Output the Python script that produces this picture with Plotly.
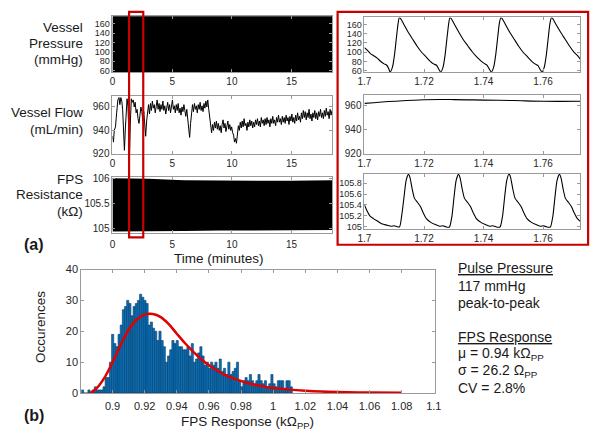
import plotly.graph_objects as go
import numpy as np

W, H = 600, 435

# ---------------- data ----------------
# left overview panels: dense waveforms drawn as min/max envelopes
press_env_time = [0, 5, 10, 15, 18.4]
press_env_upper = [176, 176, 176, 176, 176]
press_env_lower = [57.5, 57.5, 57.5, 57.5, 57.5]

fps_env_time = [0, 3, 6, 9, 12, 15, 18.4]
fps_env_upper = [106.0, 105.99, 105.96, 105.95, 105.95, 105.95, 105.96]
fps_env_lower = [104.94, 104.94, 104.95, 104.96, 104.97, 104.97, 104.97]

flow_time = [0.00, 0.08, 0.15, 0.25, 0.35, 0.45, 0.55, 0.62, 0.70, 0.78, 0.85, 0.92, 1.00, 1.08, 1.15,
             1.22, 1.30, 1.36, 1.43, 1.50, 1.58, 1.66, 1.74, 1.82, 1.90, 1.98, 2.06, 2.14, 2.22, 2.30,
             2.38, 2.46, 2.54, 2.62, 2.70, 2.78, 2.86, 2.94, 3.02, 3.10, 3.18, 3.26, 3.34, 3.42, 3.50,
             3.58, 3.66, 3.74, 3.82, 3.90, 3.98, 4.06, 4.14, 4.22, 4.30, 4.38, 4.46, 4.54, 4.62, 4.70,
             4.78, 4.86, 4.94, 5.02, 5.10, 5.18, 5.26, 5.34, 5.42, 5.50, 5.58, 5.66, 5.74, 5.82, 5.90,
             5.98, 6.06, 6.14, 6.22, 6.30, 6.38, 6.46, 6.54, 6.62, 6.70, 6.78, 6.86, 6.94, 7.02, 7.10,
             7.18, 7.26, 7.34, 7.42, 7.50, 7.58, 7.66, 7.74, 7.82, 7.90, 7.98, 8.06, 8.14, 8.22, 8.30,
             8.38, 8.46, 8.54, 8.62, 8.70, 8.78, 8.86, 8.94, 9.02, 9.10, 9.18, 9.26, 9.34, 9.42, 9.50,
             9.58, 9.66, 9.74, 9.82, 9.90, 9.98, 10.06, 10.14, 10.22, 10.30, 10.38, 10.46, 10.54, 10.62,
             10.70, 10.78, 10.86, 10.94, 11.02, 11.10, 11.18, 11.26, 11.34, 11.42, 11.50, 11.58, 11.66,
             11.74, 11.82, 11.90, 11.98, 12.06, 12.14, 12.22, 12.30, 12.38, 12.46, 12.54, 12.62, 12.70,
             12.78, 12.86, 12.94, 13.02, 13.10, 13.18, 13.26, 13.34, 13.42, 13.50, 13.58, 13.66, 13.74,
             13.82, 13.90, 13.98, 14.06, 14.14, 14.22, 14.30, 14.38, 14.46, 14.54, 14.62, 14.70, 14.78,
             14.86, 14.94, 15.02, 15.10, 15.18, 15.26, 15.34, 15.42, 15.50, 15.58, 15.66, 15.74, 15.82,
             15.90, 15.98, 16.06, 16.14, 16.22, 16.30, 16.38, 16.46, 16.54, 16.62, 16.70, 16.78, 16.86,
             16.94, 17.02, 17.10, 17.18, 17.26, 17.34, 17.42, 17.50, 17.58, 17.66, 17.74, 17.82, 17.90,
             17.98, 18.06, 18.14, 18.22, 18.30, 18.38]
flow_value = [935, 930, 940, 943, 955, 966, 968, 962, 968, 965, 958, 940, 923, 942, 964,
              967, 960, 940, 920, 948, 967, 964, 966, 960, 964, 955, 958, 950, 946, 953,
              960, 956, 948, 956, 944, 935, 948, 958, 962, 954, 963, 957, 965, 959, 962,
              955, 961, 966, 958, 963, 956, 962, 958, 965, 957, 961, 954, 960, 964, 957,
              962, 955, 960, 966, 958, 961, 955, 962, 957, 963, 955, 959, 953, 960, 956,
              962, 957, 952, 958, 950, 944, 934, 946, 958, 962, 956, 963, 958, 961, 955,
              962, 958, 964, 957, 961, 956, 963, 959, 965, 960, 966, 958, 950, 942, 938,
              945, 940, 947, 942, 948, 941, 946, 940, 944, 938, 945, 949, 942, 946, 939,
              944, 948, 941, 945, 940, 943, 938, 936, 930, 933, 929, 936, 944, 940,
              947, 942, 948, 943, 950, 944, 946, 940, 947, 943, 949, 944, 948,
              942, 947, 943, 949, 945, 950, 944, 948, 943, 951, 946, 949, 944,
              950, 945, 951, 946, 949, 943, 950, 946, 952, 946, 949, 944, 951,
              947, 953, 947, 950, 945, 952, 947, 951, 946, 953, 948, 951, 945,
              952, 948, 954, 947, 951, 946, 953, 948, 955, 949, 952, 947, 955,
              950, 957, 951, 956, 949, 955, 951, 958, 950, 954, 948, 955, 951,
              957, 950, 955, 949, 956, 952, 958, 951, 955, 950, 957, 952, 959,
              953, 956, 950, 958, 953, 957]

# right zoomed panels
zoom_p_time = [1.7000, 1.7010, 1.7020, 1.7030, 1.7042, 1.7055, 1.7066, 1.7075, 1.7082, 1.7086,
               1.7094, 1.7101, 1.7108, 1.7113, 1.7117, 1.7122, 1.7132, 1.7147, 1.7162, 1.7177,
               1.7192, 1.7207, 1.7222, 1.7232, 1.7242, 1.7250, 1.7256, 1.7264, 1.7271, 1.7278,
               1.7283, 1.7287, 1.7292, 1.7302, 1.7317, 1.7332, 1.7347, 1.7362, 1.7377, 1.7392,
               1.7402, 1.7412, 1.7420, 1.7426, 1.7434, 1.7441, 1.7448, 1.7453, 1.7458, 1.7463,
               1.7473, 1.7488, 1.7503, 1.7518, 1.7533, 1.7548, 1.7563, 1.7573, 1.7583, 1.7590,
               1.7596, 1.7604, 1.7611, 1.7618, 1.7623, 1.7628, 1.7633, 1.7643, 1.7658, 1.7673,
               1.7688, 1.7703, 1.7718, 1.7725]
zoom_p_value = [110, 104, 97, 93, 88, 80, 75, 72, 64, 57,
                68, 95, 135, 162, 174, 172, 160, 143, 128, 113,
                100, 90, 80, 75, 72, 63, 57, 68, 95, 135,
                162, 174, 172, 160, 143, 127, 114, 101, 90, 81,
                76, 72, 63, 57, 68, 95, 135, 162, 174, 172,
                160, 143, 128, 113, 100, 90, 80, 75, 71, 63,
                57, 68, 95, 135, 162, 174, 172, 160, 144, 129,
                114, 101, 91, 85]

zoom_f_time = [1.700, 1.710, 1.720, 1.730, 1.740, 1.750, 1.760, 1.7725]
zoom_f_value = [961.5, 963.2, 964.5, 964.6, 964.2, 963.8, 963.2, 963.2]

zoom_r_time = [1.7000, 1.7008, 1.7018, 1.7030, 1.7045, 1.7060, 1.7075, 1.7090, 1.7100, 1.7110,
               1.7118, 1.7125, 1.7133, 1.7140, 1.7148, 1.7153, 1.7160, 1.7168, 1.7178, 1.7188,
               1.7198, 1.7208, 1.7223, 1.7238, 1.7253, 1.7263, 1.7273, 1.7281, 1.7286, 1.7294,
               1.7301, 1.7308, 1.7316, 1.7321, 1.7328, 1.7336, 1.7346, 1.7356, 1.7366, 1.7376,
               1.7391, 1.7406, 1.7421, 1.7431, 1.7441, 1.7451, 1.7456, 1.7464, 1.7471, 1.7478,
               1.7486, 1.7491, 1.7498, 1.7506, 1.7516, 1.7526, 1.7536, 1.7546, 1.7561, 1.7576,
               1.7591, 1.7601, 1.7611, 1.7619, 1.7625, 1.7633, 1.7640, 1.7647, 1.7655, 1.7660,
               1.7667, 1.7675, 1.7685, 1.7695, 1.7705, 1.7715, 1.7725]
zoom_r_value = [105.40, 105.30, 105.20, 105.15, 105.10, 105.05, 105.03, 105.01, 105.02, 105.00,
                105.00, 105.20, 105.55, 105.85, 105.96, 105.90, 105.70, 105.52, 105.45, 105.37,
                105.25, 105.15, 105.08, 105.04, 105.01, 105.02, 105.00, 104.99, 105.00, 105.20,
                105.55, 105.85, 105.96, 105.90, 105.70, 105.52, 105.45, 105.37, 105.25, 105.15,
                105.08, 105.04, 105.01, 105.02, 105.00, 104.99, 105.00, 105.20, 105.55, 105.85,
                105.97, 105.90, 105.70, 105.52, 105.45, 105.37, 105.25, 105.15, 105.08, 105.04,
                105.01, 105.02, 105.00, 104.99, 105.00, 105.20, 105.55, 105.85, 105.96, 105.90,
                105.70, 105.52, 105.45, 105.37, 105.25, 105.15, 105.10]

# histogram
hist_first_center = 0.8813
hist_bin_width = 0.00134
hist_counts = [1, 0, 0, 1, 0, 1, 2, 1, 1, 1, 2,
               5, 5, 10, 19, 16, 15, 19, 22, 27, 28,
               30, 29, 25, 28, 29, 30, 32, 31, 30, 29,
               22, 23, 21, 20, 17, 20, 17, 15, 10, 12,
               14, 17, 16, 17, 15, 15, 14, 14, 15, 12,
               16, 10, 11, 13, 15, 12, 9, 10, 8, 10,
               9, 10, 8, 11, 7, 8, 6, 10, 6, 7,
               8, 10, 4, 2, 4, 5, 4, 6, 4, 3,
               4, 6, 4, 3, 4, 2, 3, 6, 3, 2,
               4, 4, 4, 1, 4, 4, 2]
fit_x = [0.886, 0.89, 0.895, 0.90, 0.905, 0.91, 0.915, 0.92, 0.925, 0.93, 0.935, 0.94, 0.945,
         0.95, 0.955, 0.96, 0.965, 0.97, 0.975, 0.98, 0.985, 0.99, 0.995, 1.00, 1.01, 1.02,
         1.03, 1.04, 1.06, 1.08]
fit_y = [0, 1.5, 5, 10, 15.5, 20.5, 23.8, 25.4, 25.6, 24.6, 22.3, 19.2, 16.2,
         13.5, 11.0, 9.0, 7.3, 5.9, 4.8, 3.9, 3.1, 2.5, 2.0, 1.6, 1.1, 0.75,
         0.5, 0.35, 0.15, 0.05]

time_ticks = [0, 5, 10, 15]
zoom_ticks = [1.7, 1.72, 1.74, 1.76]
zoom_tick_text = ["1.7", "1.72", "1.74", "1.76"]
press_ticks = [60, 80, 100, 120, 140, 160]
flow_ticks = [920, 940, 960]
fps_left_ticks = [105, 105.5, 106]
fps_left_text = ["105", "105.5", "106"]
fps_right_ticks = [105, 105.2, 105.4, 105.6, 105.8]
fps_right_text = ["105", "105.2", "105.4", "105.6", "105.8"]
hist_xticks = [0.9, 0.92, 0.94, 0.96, 0.98, 1.0, 1.02, 1.04, 1.06, 1.08, 1.1]
hist_xtext = ["0.9", "0.92", "0.94", "0.96", "0.98", "1", "1.02", "1.04", "1.06", "1.08", "1.1"]
hist_yticks = [0, 10, 20, 30, 40]

# ---------------- helpers ----------------
def dx(a, b):
    return [a / W, b / W]

def dy(top, bottom):
    return [1 - bottom / H, 1 - top / H]

def px(x):
    return x / W

def py(y):
    return 1 - y / H

FONT = "Liberation Sans, Arial, sans-serif"
AX = "#9a9a9a"
TXT = "#262626"

def axis(domain, rng, tickvals, ticktext=None, size=10, anchor=None, standoff=None):
    d = dict(domain=domain, range=rng, tickvals=tickvals, showline=True, linecolor=AX,
             linewidth=1, mirror="ticks", ticks="inside", ticklen=3, tickcolor=AX,
             showgrid=False, zeroline=False, tickfont=dict(family=FONT, size=size, color=TXT),
             fixedrange=True)
    if ticktext is not None:
        d["ticktext"] = ticktext
    if anchor:
        d["anchor"] = anchor
    if standoff is not None:
        d["ticklabelstandoff"] = standoff
    return d

fig = go.Figure()

def env_poly(t, up, lo):
    return list(t) + list(t[::-1]), list(up) + list(lo[::-1])

# left pressure
xs, ys = env_poly(press_env_time, press_env_upper, press_env_lower)
fig.add_trace(go.Scatter(x=xs, y=ys, fill="toself", fillcolor="black", mode="lines",
                         line=dict(width=0, color="black"), xaxis="x", yaxis="y", hoverinfo="skip"))
# left flow
fig.add_trace(go.Scatter(x=flow_time, y=flow_value, mode="lines", line=dict(color="black", width=1),
                         xaxis="x2", yaxis="y2"))
# left fps
xs, ys = env_poly(fps_env_time, fps_env_upper, fps_env_lower)
fig.add_trace(go.Scatter(x=xs, y=ys, fill="toself", fillcolor="black", mode="lines",
                         line=dict(width=0, color="black"), xaxis="x3", yaxis="y3", hoverinfo="skip"))
# right panels
fig.add_trace(go.Scatter(x=zoom_p_time, y=zoom_p_value, mode="lines",
                         line=dict(color="black", width=1.1, shape="spline", smoothing=0.6),
                         xaxis="x4", yaxis="y4"))
fig.add_trace(go.Scatter(x=zoom_f_time, y=zoom_f_value, mode="lines",
                         line=dict(color="black", width=1.1, shape="spline"),
                         xaxis="x5", yaxis="y5"))
fig.add_trace(go.Scatter(x=zoom_r_time, y=zoom_r_value, mode="lines",
                         line=dict(color="black", width=1.1, shape="spline", smoothing=0.6),
                         xaxis="x6", yaxis="y6"))
# histogram
centers = hist_first_center + hist_bin_width * np.arange(len(hist_counts))
fig.add_trace(go.Bar(x=centers, y=hist_counts, width=hist_bin_width,
                     marker=dict(color="#0072BD", line=dict(color="#14385c", width=0.6)),
                     xaxis="x7", yaxis="y7"))
fig.add_trace(go.Scatter(x=fit_x, y=fit_y, mode="lines",
                         line=dict(color="#e00000", width=2.5, shape="spline"),
                         xaxis="x7", yaxis="y7"))

LX = dx(108, 333)
RX = dx(366, 587)
layout = dict(
    width=W, height=H, margin=dict(l=0, r=0, t=0, b=0), autosize=False,
    paper_bgcolor="white", plot_bgcolor="white", showlegend=False,
    xaxis=axis(LX, [0, 18.4], time_ticks, anchor="y"),
    yaxis=axis(dy(10, 68), [57, 177], press_ticks, size=9, anchor="x"),
    xaxis2=axis(LX, [0, 18.4], time_ticks, anchor="y2"),
    yaxis2=axis(dy(93, 152), [920, 969], flow_ticks, anchor="x2"),
    xaxis3=axis(LX, [0, 18.4], time_ticks, anchor="y3", standoff=2),
    yaxis3=axis(dy(176, 233), [104.92, 106.02], fps_left_ticks, fps_left_text, anchor="x3"),
    xaxis4=axis(RX, [1.7, 1.7725], zoom_ticks, zoom_tick_text, anchor="y4"),
    yaxis4=axis(dy(11.7, 68.3), [56.6, 175], press_ticks, size=9, anchor="x4"),
    xaxis5=axis(RX, [1.7, 1.7725], zoom_ticks, zoom_tick_text, anchor="y5"),
    yaxis5=axis(dy(92, 152), [920, 968], flow_ticks, anchor="x5"),
    xaxis6=axis(RX, [1.7, 1.7725], zoom_ticks, zoom_tick_text, anchor="y6"),
    yaxis6=axis(dy(172.3, 229), [104.965, 105.975], fps_right_ticks, fps_right_text, size=9, anchor="x6"),
    xaxis7=axis(dx(76, 438), [0.8805, 1.1006], hist_xticks, hist_xtext, size=11, anchor="y7", standoff=3),
    yaxis7=axis(dy(271, 398), [0, 40], hist_yticks, size=11, anchor="x7"),
)
fig.update_layout(**layout)

annots = []
def txt(x, y, s, size=13.5, xanchor="right", bold=False, angle=0):
    annots.append(dict(x=px(x), y=py(y), xref="paper", yref="paper",
                       text=("<b>%s</b>" % s) if bold else s,
                       showarrow=False, xanchor=xanchor, yanchor="middle", textangle=angle,
                       borderpad=0, font=dict(family=FONT, size=size, color="#1a1a1a")))

# left labels
txt(79, 22, "Vessel")
txt(79, 38.5, "Pressure")
txt(79, 55, "(mmHg)")
txt(79, 110, "Vessel Flow")
txt(79, 127.5, "(mL/min)")
txt(79, 178, "FPS")
txt(79, 194, "Resistance")
txt(79, 211, "(kΩ)")
txt(217, 259.5, "Time (minutes)", xanchor="center")
txt(16, 245, "(a)", size=16, xanchor="left", bold=True)
txt(16, 421, "(b)", size=16, xanchor="left", bold=True)
txt(35, 330, "Occurences", angle=-90, xanchor="center")
txt(246, 428, "FPS Response (kΩ<sub>PP</sub>)", xanchor="center")

# right stats
txt(461, 269, "<u>Pulse Pressure</u>", size=14, xanchor="left")
txt(461, 288, "117 mmHg", size=14, xanchor="left")
txt(461, 305.5, "peak-to-peak", size=14, xanchor="left")
txt(461, 340, "<u>FPS Response</u>", size=14, xanchor="left")
txt(461, 358, "μ = 0.94 kΩ<sub>PP</sub>", size=14, xanchor="left")
txt(461, 375.5, "σ = 26.2 Ω<sub>PP</sub>", size=14, xanchor="left")
txt(461, 393, "CV = 2.8%", size=14, xanchor="left")

RED = "#c80000"
shapes = [
    dict(type="rect", xref="paper", yref="paper", x0=px(125), x1=px(139.5), y0=py(238), y1=py(6),
         line=dict(color=RED, width=2.2), fillcolor="rgba(0,0,0,0)", layer="above"),
    dict(type="rect", xref="paper", yref="paper", x0=px(338.5), x1=px(595), y0=py(245.5), y1=py(6),
         line=dict(color=RED, width=2.2), fillcolor="rgba(0,0,0,0)", layer="above"),
]
fig.update_layout(annotations=annots, shapes=shapes)

fig.write_html("out.html", config={"displayModeBar": False, "staticPlot": True},
               post_script="document.body.style.margin='0px';document.body.style.overflow='hidden';")
